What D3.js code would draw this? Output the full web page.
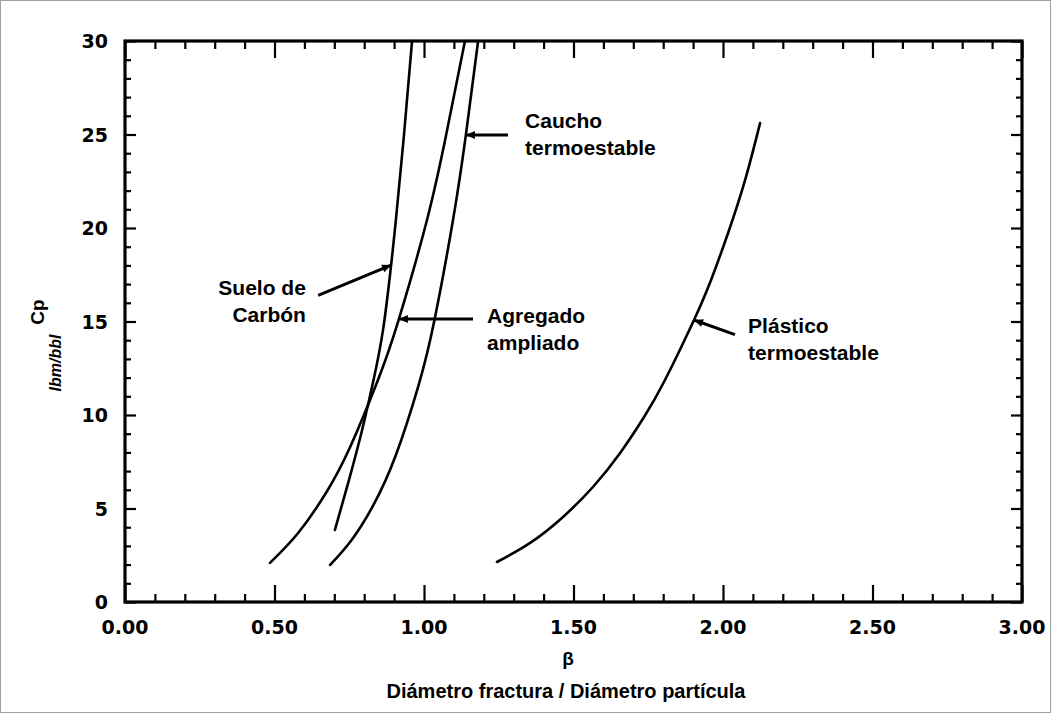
<!DOCTYPE html>
<html>
<head>
<meta charset="utf-8">
<script src="https://cdn.jsdelivr.net/npm/d3@7"></script>
<style>
  html, body { margin: 0; padding: 0; background: #fff; }
  svg { display: block; }
</style>
</head>
<body>
<svg id="chart" width="1060" height="714"></svg>
<script>
// ---- data (β, Cp) ----
const sueloCarbon = [
  [0.702, 3.85], [0.749, 6.52], [0.793, 9.20], [0.829, 11.71], [0.863, 14.55],
  [0.890, 18.02], [0.906, 20.43], [0.933, 24.97], [0.960, 30.0]
];
const agregadoAmpliado = [
  [0.485, 2.09], [0.579, 3.69], [0.672, 5.83], [0.753, 8.29], [0.846, 11.87],
  [0.916, 15.13], [1.010, 20.43], [1.074, 24.97], [1.137, 30.0]
];
const cauchoTermoestable = [
  [0.686, 1.98], [0.758, 3.32], [0.831, 5.19], [0.906, 7.86], [0.982, 11.60],
  [1.035, 15.08], [1.097, 20.43], [1.140, 24.97], [1.181, 30.0]
];
const plasticoTermoestable = [
  [1.244, 2.14], [1.355, 3.16], [1.465, 4.55], [1.565, 6.15], [1.656, 7.97],
  [1.736, 9.89], [1.806, 11.87], [1.903, 15.08], [1.960, 17.22], [2.017, 19.73],
  [2.074, 22.57], [2.124, 25.61]
];
const xMajorTicks = [0, 0.5, 1.0, 1.5, 2.0, 2.5, 3.0];
const xTickLabels = ["0.00", "0.50", "1.00", "1.50", "2.00", "2.50", "3.00"];
const yMajorTicks = [0, 5, 10, 15, 20, 25, 30];
const yTickLabels = ["0", "5", "10", "15", "20", "25", "30"];

// annotations: label lines, arrow tail (data), arrow tip (data)
const annotations = [
  { lines: ["Suelo de", "Carbón"], tail: [0.646, 16.4], tip: [0.890, 18.02], anchor: "end", tx: 0.605, ty: 16.4 },
  { lines: ["Agregado", "ampliado"], tail: [1.164, 15.13], tip: [0.916, 15.13], anchor: "start", tx: 1.211, ty: 14.9 },
  { lines: ["Caucho", "termoestable"], tail: [1.281, 24.97], tip: [1.140, 24.97], anchor: "start", tx: 1.338, ty: 25.35 },
  { lines: ["Plástico", "termoestable"], tail: [2.040, 14.3], tip: [1.903, 15.08], anchor: "start", tx: 2.084, ty: 14.4 }
];

// ---- layout ----
const svg = d3.select("#chart");
const mLeft = 125, mRight = 1022, mTop = 41, mBottom = 602;
const x = d3.scaleLinear().domain([0, 3]).range([mLeft, mRight]);
const y = d3.scaleLinear().domain([0, 30]).range([mBottom, mTop]);

// outer thin border of the picture
svg.append("rect").attr("x", 0.5).attr("y", 0.5).attr("width", 1050).attr("height", 712)
  .attr("fill", "none").attr("stroke", "#a0a0a0").attr("stroke-width", 1);

const g = svg.append("g");

// axes with inward ticks
const xMinor = d3.range(0, 3.0001, 0.1).filter(v => Math.abs(v * 2 - Math.round(v * 2)) > 1e-6);
const yMinor = d3.range(0, 30.0001, 1).filter(v => v % 5 !== 0);

function styleAxis(sel) {
  sel.select(".domain").remove();
  sel.selectAll(".tick line").attr("stroke", "#000").attr("stroke-width", 2.2);
}

// bottom
g.append("g").attr("transform", `translate(0,${mBottom})`)
  .call(d3.axisTop(x).tickValues(xMajorTicks).tickSize(17).tickFormat(""))
  .call(styleAxis);
g.append("g").attr("transform", `translate(0,${mBottom})`)
  .call(d3.axisTop(x).tickValues(xMinor).tickSize(8).tickFormat(""))
  .call(styleAxis);
// top
g.append("g").attr("transform", `translate(0,${mTop})`)
  .call(d3.axisBottom(x).tickValues(xMajorTicks).tickSize(17).tickFormat(""))
  .call(styleAxis);
g.append("g").attr("transform", `translate(0,${mTop})`)
  .call(d3.axisBottom(x).tickValues(xMinor).tickSize(8).tickFormat(""))
  .call(styleAxis);
// left
g.append("g").attr("transform", `translate(${mLeft},0)`)
  .call(d3.axisRight(y).tickValues(yMajorTicks).tickSize(11).tickFormat(""))
  .call(styleAxis);
g.append("g").attr("transform", `translate(${mLeft},0)`)
  .call(d3.axisRight(y).tickValues(yMinor).tickSize(6).tickFormat(""))
  .call(styleAxis);
// right
g.append("g").attr("transform", `translate(${mRight},0)`)
  .call(d3.axisLeft(y).tickValues(yMajorTicks).tickSize(11).tickFormat(""))
  .call(styleAxis);
g.append("g").attr("transform", `translate(${mRight},0)`)
  .call(d3.axisLeft(y).tickValues(yMinor).tickSize(6).tickFormat(""))
  .call(styleAxis);

// frame
g.append("rect").attr("x", mLeft).attr("y", mTop).attr("width", mRight - mLeft).attr("height", mBottom - mTop)
  .attr("fill", "none").attr("stroke", "#000").attr("stroke-width", 3.2);

// tick labels
const tickFont = "'DejaVu Sans', sans-serif";
g.append("g").selectAll("text").data(xMajorTicks).join("text")
  .attr("x", d => x(d)).attr("y", mBottom + 32)
  .attr("text-anchor", "middle")
  .attr("font-family", tickFont).attr("font-weight", "bold").attr("font-size", 19)
  .text((d, i) => xTickLabels[i]);
g.append("g").selectAll("text").data(yMajorTicks).join("text")
  .attr("x", mLeft - 17).attr("y", d => y(d) + 7)
  .attr("text-anchor", "end")
  .attr("font-family", tickFont).attr("font-weight", "bold").attr("font-size", 19)
  .text((d, i) => yTickLabels[i]);

// curves
const line = d3.line().x(d => x(d[0])).y(d => y(d[1])).curve(d3.curveNatural);
const series = [sueloCarbon, agregadoAmpliado, cauchoTermoestable, plasticoTermoestable];
g.append("g").selectAll("path").data(series).join("path")
  .attr("d", line)
  .attr("fill", "none").attr("stroke", "#000").attr("stroke-width", 2.6)
  .attr("stroke-linecap", "round");

// annotations
const annFont = "'Liberation Sans', Arial, sans-serif";
const ann = g.append("g");
annotations.forEach(a => {
  const x1 = x(a.tail[0]), y1 = y(a.tail[1]), x2 = x(a.tip[0]), y2 = y(a.tip[1]);
  ann.append("line").attr("x1", x1).attr("y1", y1).attr("x2", x2).attr("y2", y2)
    .attr("stroke", "#000").attr("stroke-width", 3);
  const ang = Math.atan2(y2 - y1, x2 - x1);
  const L = 9, W = 4;
  const bx = x2 - L * Math.cos(ang), by = y2 - L * Math.sin(ang);
  const px = -Math.sin(ang) * W, py = Math.cos(ang) * W;
  ann.append("path")
    .attr("d", `M${x2},${y2}L${bx + px},${by + py}L${bx - px},${by - py}Z`)
    .attr("fill", "#000");
  const t = ann.append("text")
    .attr("x", x(a.tx)).attr("y", y(a.ty))
    .attr("text-anchor", a.anchor)
    .attr("font-family", annFont).attr("font-weight", "bold").attr("font-size", 21);
  a.lines.forEach((s, i) => {
    t.append("tspan").attr("x", x(a.tx)).attr("dy", i === 0 ? 0 : 27).text(s);
  });
});

// axis titles
svg.append("text").attr("transform", `translate(44,312) rotate(-90)`)
  .attr("text-anchor", "middle")
  .attr("font-family", annFont).attr("font-weight", "bold").attr("font-size", 19)
  .text("Cp");
svg.append("text").attr("transform", `translate(61,363) rotate(-90)`)
  .attr("text-anchor", "middle")
  .attr("font-family", annFont).attr("font-style", "italic").attr("font-weight", "bold").attr("font-size", 16)
  .text("lbm/bbl");
svg.append("text").attr("x", 568).attr("y", 665)
  .attr("text-anchor", "middle")
  .attr("font-family", annFont).attr("font-weight", "bold").attr("font-size", 19)
  .text("β");
svg.append("text").attr("x", 566).attr("y", 698)
  .attr("text-anchor", "middle")
  .attr("font-family", annFont).attr("font-weight", "bold").attr("font-size", 20)
  .text("Diámetro fractura / Diámetro partícula");
</script>
</body>
</html>
